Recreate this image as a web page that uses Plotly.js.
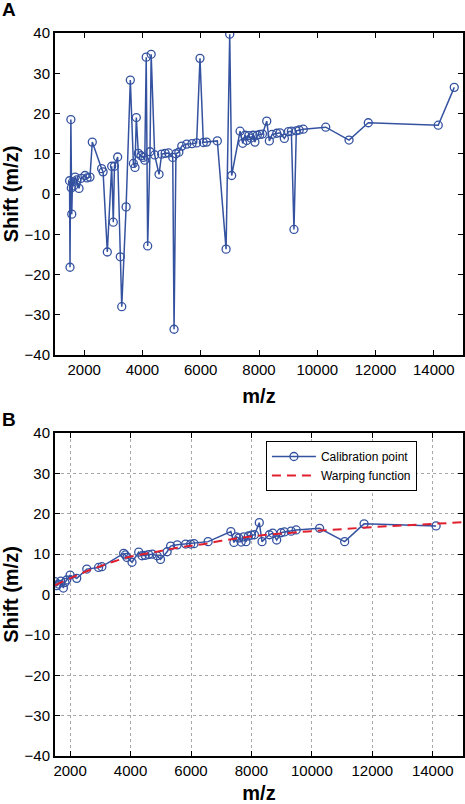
<!DOCTYPE html>
<html>
<head>
<meta charset="utf-8">
<script src="https://cdn.plot.ly/plotly-3.0.1.min.js"></script>
<style>html,body{margin:0;padding:0;background:#fff;}#chart{width:465px;height:804px;}</style>
</head>
<body>
<div id="chart"></div>
<script>
// Panel A: all calibration candidates
var mzA = [1500,1515,1545,1560,1575,1600,1640,1690,1745,1824,1900,2030,2100,2200,2280,2600,2650,2795,2945,3000,3040,3150,3240,3290,3440,3585,3690,3745,3790,3860,3950,4030,4080,4130,4180,4260,4300,4420,4570,4660,4780,4900,5040,5085,5150,5250,5350,5520,5700,5860,5975,6090,6200,6570,6870,6995,7063,7350,7440,7520,7580,7650,7720,7800,7860,7940,8030,8120,8265,8355,8450,8610,8720,8870,9010,9110,9200,9280,9380,9520,10290,11090,11750,14150,14700];
var shiftA = [3.3,-18.2,18.5,1.5,-5.0,3.0,2.0,4.2,3.5,1.4,3.9,4.6,4.0,4.2,12.9,6.3,5.5,-14.4,6.9,-7.0,6.9,9.2,-15.6,-28.0,-3.2,28.3,7.6,6.6,19.0,10.1,9.5,9.1,8.4,34.0,-12.9,10.5,34.7,9.7,4.9,9.9,10.1,10.2,9.1,-33.6,10.0,10.4,11.9,12.4,12.5,12.7,33.7,12.8,12.9,13.2,-13.7,39.7,4.6,15.6,12.6,14.6,13.3,14.5,13.9,14.6,12.9,14.6,14.8,14.9,18.1,13.2,14.8,15.1,15.2,13.8,15.5,15.6,-8.8,15.7,15.9,16.1,16.6,13.4,17.7,17.1,26.5];

// Panel B: retained calibration points
var mzB = [1500,1560,1610,1690,1777,1830,1887,2000,2219,2552,2941,3051,3772,3828,3880,4048,4270,4380,4480,4600,4720,4880,4990,5210,5325,5545,5823,5990,6099,6565,7319,7420,7500,7580,7660,7740,7820,7900,8000,8100,8260,8350,8592,8703,8835,8981,9091,9314,9480,10255,11085,11727,14110];
var shiftB = [3.2,2.2,2.6,3.3,1.6,3.0,3.6,4.8,4.0,6.3,6.7,6.9,10.2,9.8,9.2,8.0,10.5,9.6,9.7,9.9,10.0,9.6,8.7,10.6,12.0,12.3,12.5,12.5,12.6,13.1,15.6,12.9,14.3,14.0,13.0,14.3,13.1,14.5,14.7,14.8,17.8,13.1,14.8,15.2,13.5,15.3,15.5,15.7,16.0,16.4,13.1,17.5,17.0];

// Warping function samples
var warpMz = [1500,2000,2500,3000,3500,4000,4500,5000,5500,6000,6500,7000,7500,8000,8500,9000,9500,10000,11000,12000,13000,14000,15000];
var warpShift = [2.3,4.0,5.6,7.0,8.3,9.4,10.1,10.8,11.5,12.1,12.6,13.3,13.9,14.4,14.8,15.1,15.4,15.7,16.2,16.7,17.1,17.5,17.9];

var xTicks = [2000,4000,6000,8000,10000,12000,14000];
var xTickText = ['2000','4000','6000','8000','10000','12000','14000'];
var yTicks = [-40,-30,-20,-10,0,10,20,30,40];
var yTickText = ['\u221240','\u221230','\u221220','\u221210','0','10','20','30','40'];

var blue = '#3452a0';
var red = '#e0202e';
var fontFam = 'Liberation Sans, Arial, Helvetica, sans-serif';

var traces = [
  {x: mzA, y: shiftA, xaxis:'x', yaxis:'y', mode:'lines+markers', type:'scatter', showlegend:false,
   line:{color:blue, width:1.5}, marker:{symbol:'circle-open', size:8, color:blue, line:{width:1.3, color:blue}}},
  {x: mzB, y: shiftB, xaxis:'x2', yaxis:'y2', mode:'lines+markers', type:'scatter', name:'Calibration point',
   line:{color:blue, width:1.5}, marker:{symbol:'circle-open', size:8, color:blue, line:{width:1.3, color:blue}}},
  {x: warpMz, y: warpShift, xaxis:'x2', yaxis:'y2', mode:'lines', type:'scatter', name:'Warping function',
   line:{color:red, width:2, dash:'9px,6px', shape:'spline'}}
];

function xAx(range, anchor, grid){
  return {anchor:anchor, range:range, tickvals:xTicks, ticktext:xTickText, tickmode:'array', ticks:'inside', ticklen:5, tickwidth:1, tickcolor:'#000',
    mirror:'ticks', showline:true, linewidth:2, linecolor:'#000', zeroline:false,
    showgrid:grid, gridcolor:'#a8a8a8', gridwidth:1, griddash:'dot',
    tickfont:{size:15, family:fontFam, color:'#000'},
    title:{text:'<b>m/z</b>', font:{size:20, family:fontFam, color:'#000'}, standoff:12}};
}
function yAx(domain, anchor, grid){
  return {anchor:anchor, domain:domain, range:[-40,40], tickvals:yTicks, ticktext:yTickText, tickmode:'array', ticks:'inside', ticklen:5, tickwidth:1, tickcolor:'#000',
    mirror:'ticks', showline:true, linewidth:2, linecolor:'#000', zeroline:false,
    showgrid:grid, gridcolor:'#a8a8a8', gridwidth:1, griddash:'dot',
    tickfont:{size:15, family:fontFam, color:'#000'},
    title:{text:'<b>Shift (m/z)</b>', font:{size:20, family:fontFam, color:'#000'}, standoff:6}};
}

var layout = {
  width:465, height:804,
  margin:{l:55, r:2, t:33, b:48},
  paper_bgcolor:'#fff', plot_bgcolor:'#fff',
  font:{family:fontFam, size:15, color:'#000'},
  xaxis: xAx([1000,15000], 'y', false),
  yaxis: yAx([0.5546,1], 'x', false),
  xaxis2: xAx([1500,15000], 'y2', true),
  yaxis2: yAx([0,0.4467], 'x2', true),
  showlegend:true,
  legend:{x:0.517, y:0.4357, xanchor:'left', yanchor:'top', bgcolor:'#fff', bordercolor:'#000', borderwidth:1,
    itemwidth:44, font:{size:12, family:fontFam, color:'#000'}},
  annotations:[
    {text:'<b>A</b>', xref:'paper', yref:'paper', x:-0.113, y:1.0325, xanchor:'center', yanchor:'middle', showarrow:false, font:{size:19, family:fontFam, color:'#000'}},
    {text:'<b>B</b>', xref:'paper', yref:'paper', x:-0.113, y:0.4654, xanchor:'center', yanchor:'middle', showarrow:false, font:{size:19, family:fontFam, color:'#000'}}
  ]
};

Plotly.newPlot('chart', traces, layout, {staticPlot:true, displayModeBar:false});
</script>
</body>
</html>
